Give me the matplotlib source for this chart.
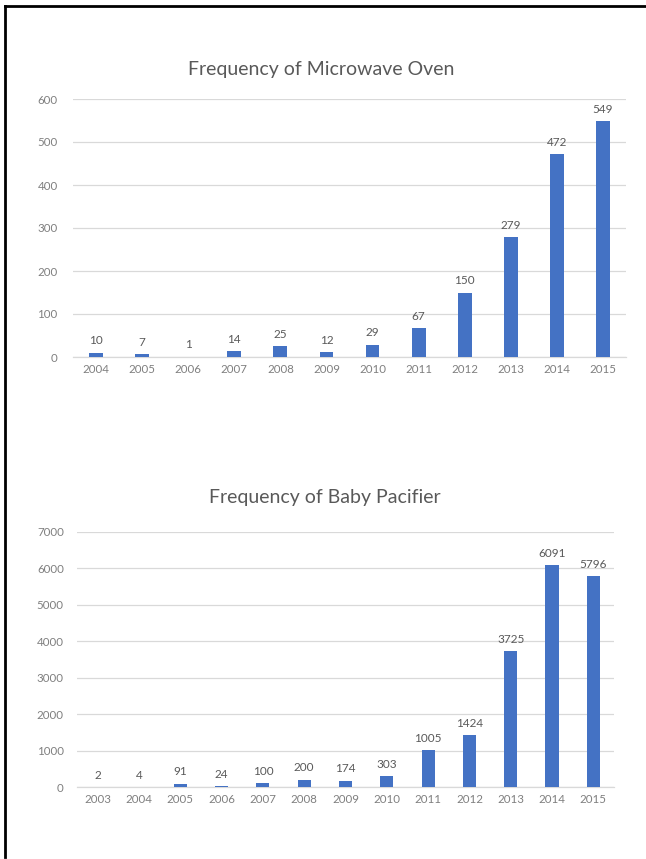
"""
plot.py  —  Frequency bar charts (Microwave Oven / Baby Pacifier)
"""

import matplotlib

matplotlib.use("Agg")
import matplotlib.pyplot as plt
from matplotlib.lines import Line2D

plt.rcParams["font.family"] = ["Lato", "DejaVu Sans"]

# ── data ─────────────────────────────────────────────
microwave_years = ["2004", "2005", "2006", "2007", "2008", "2009",
                   "2010", "2011", "2012", "2013", "2014", "2015"]
microwave_counts = [10, 7, 1, 14, 25, 12, 29, 67, 150, 279, 472, 549]
microwave_ticks = [0, 100, 200, 300, 400, 500, 600]

pacifier_years = ["2003", "2004", "2005", "2006", "2007", "2008", "2009",
                  "2010", "2011", "2012", "2013", "2014", "2015"]
pacifier_counts = [2, 4, 91, 24, 100, 200, 174, 303, 1005, 1424, 3725, 6091, 5796]
pacifier_ticks = [0, 1000, 2000, 3000, 4000, 5000, 6000, 7000]

BAR_COLOR = "#4472C4"
TEXT_COLOR = "#595959"
TICK_COLOR = "#7F7F7F"
GRID_COLOR = "#D9D9D9"

W, H = 646, 859
fig = plt.figure(figsize=(W / 100, H / 100), dpi=100)


def draw_chart(rect, years, counts, ticks, width, ypad):
    ax = fig.add_axes(rect)
    xs = range(len(years))
    ax.bar(xs, counts, width=width, color=BAR_COLOR, zorder=3)
    for x, v in zip(xs, counts):
        ax.annotate(str(v), (x, v), xytext=(0, 4.5), textcoords="offset points",
                    ha="center", va="bottom", fontsize=8.5, color=TEXT_COLOR)
    ax.set_xlim(-0.5, len(years) - 0.5)
    ax.set_ylim(ticks[0], ticks[-1])
    ax.set_yticks(ticks)
    ax.set_xticks(list(xs))
    ax.set_xticklabels(years)
    ax.tick_params(axis="both", length=0, labelsize=8.3, labelcolor=TICK_COLOR)
    ax.tick_params(axis="x", pad=5)
    ax.tick_params(axis="y", pad=ypad)
    ax.grid(axis="y", color=GRID_COLOR, linewidth=0.9, zorder=0)
    for s in ["top", "right", "left"]:
        ax.spines[s].set_visible(False)
    ax.spines["bottom"].set_color(GRID_COLOR)
    ax.spines["bottom"].set_linewidth(0.9)
    return ax


# -- top: Microwave Oven --
draw_chart([73 / W, 1 - 357 / H, 553 / W, 258 / H],
           microwave_years, microwave_counts, microwave_ticks, 0.3, 11)
fig.text(321 / W, 1 - 69 / H, "Frequency of Microwave Oven",
         ha="center", va="center", fontsize=14, color=TEXT_COLOR)

# -- bottom: Baby Pacifier --
draw_chart([77 / W, 1 - 787 / H, 537 / W, 255 / H],
           pacifier_years, pacifier_counts, pacifier_ticks, 0.32, 9.5)
fig.text(325 / W, 1 - 497 / H, "Frequency of Baby Pacifier",
         ha="center", va="center", fontsize=14, color=TEXT_COLOR)

# ── frame (top + left edge) ──
fig.add_artist(Line2D([5 / W, 1.0], [1 - 6 / H, 1 - 6 / H],
                      transform=fig.transFigure, color="black", linewidth=2))
fig.add_artist(Line2D([5 / W, 5 / W], [1 - 6 / H, 1 - 857 / H],
                      transform=fig.transFigure, color="black", linewidth=2))

fig.savefig("out.png", dpi=100)
plt.close(fig)
